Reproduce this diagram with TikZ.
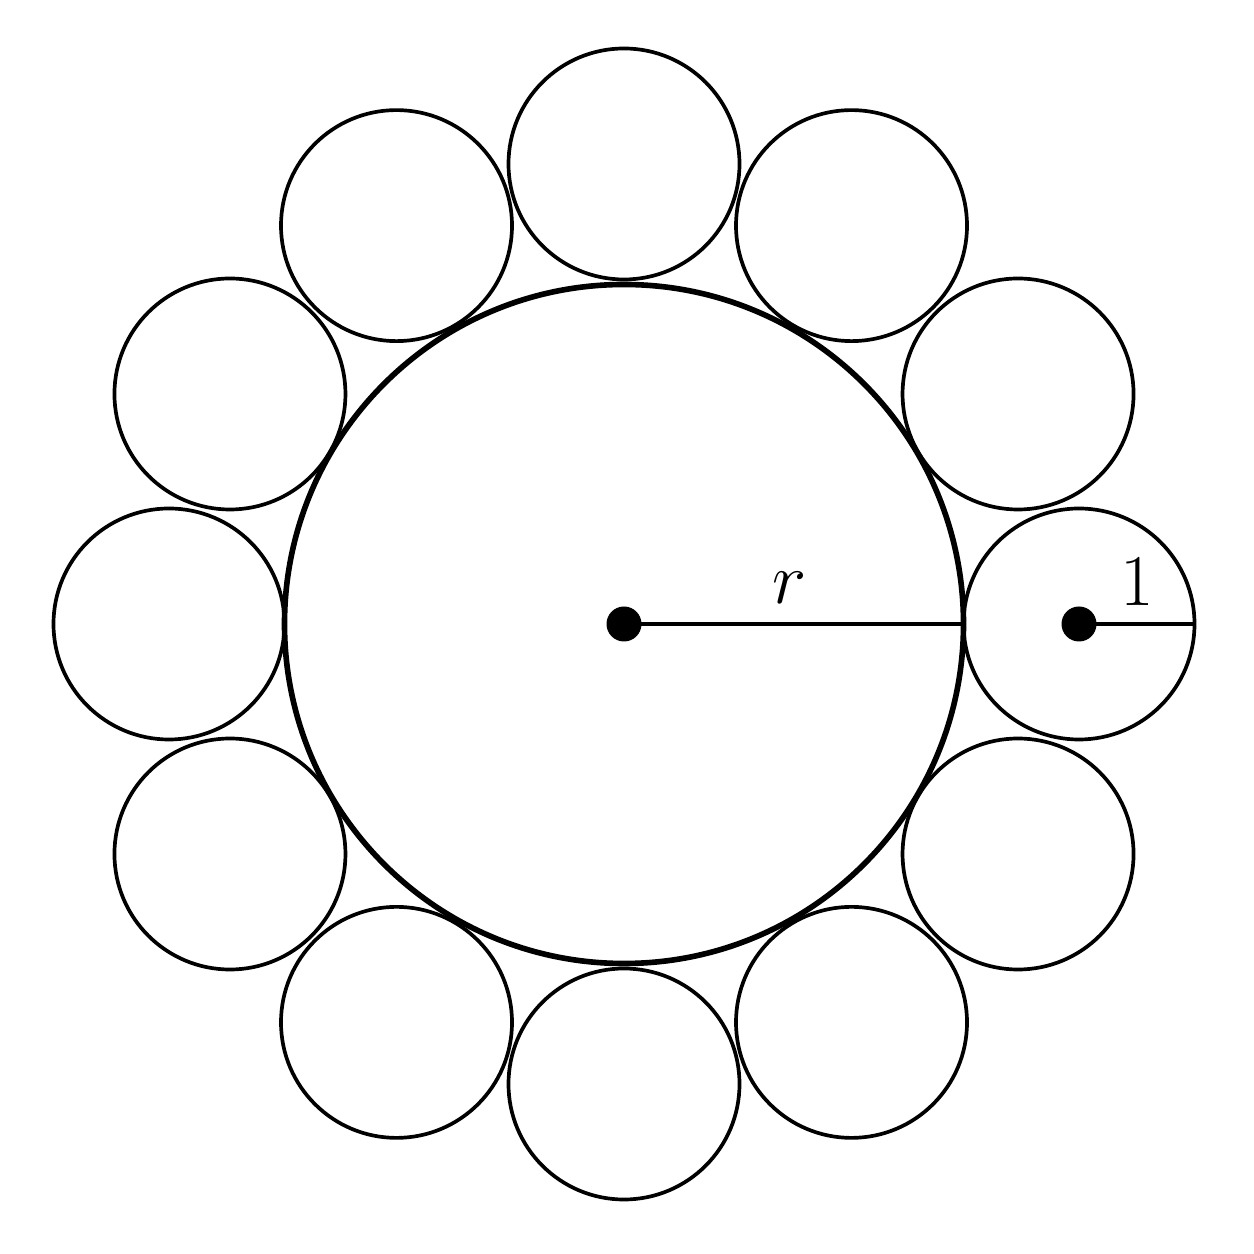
\documentclass[tikz,border=0pt]{standalone}
\begin{document}
\begin{tikzpicture}[
  smallc/.style={draw, circle, line width=1.05pt, minimum size=2.31cm, inner sep=0pt, outer sep=0pt},
  bigc/.style={draw, circle, line width=1.6pt, minimum size=6.79cm, inner sep=0pt, outer sep=0pt},
  dotc/.style={circle, fill=black, minimum size=0.35cm, inner sep=0pt, outer sep=0pt},
  rad/.style={line width=1pt},
  lab/.style={font=\huge, inner sep=0pt}
]
\useasboundingbox (-6.24,-6.30) rectangle (6.30,6.24);
\node[bigc] (big) at (0,0) {};
\foreach \a [count=\i from 0] in {0,30,...,330}
  \node[smallc] (s\i) at (\a:4.55 and 4.60) {};
\node[dotc] (O) at (0,0) {};
\node[dotc] (P) at (s0.center) {};
\draw[rad] (O.center) -- (big.east);
\draw[rad] (P.center) -- (s0.east);
\node[lab] (rl) at (1.66,0.36) {$r$};
\node[lab] (one) at (5.13,0.42) {$1$};
\end{tikzpicture}
\end{document}
